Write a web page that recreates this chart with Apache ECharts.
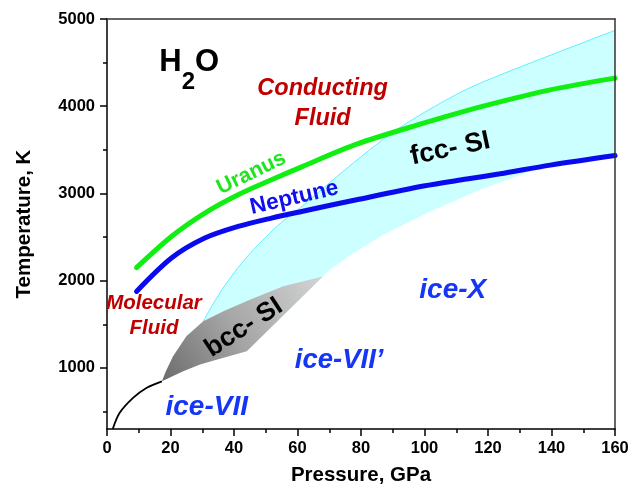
<!DOCTYPE html>
<html>
<head>
<meta charset="utf-8">
<script src="https://cdn.jsdelivr.net/npm/echarts@6/dist/echarts.min.js"></script>
<style>
  html, body { margin: 0; padding: 0; background: #fff; }
  #chart { width: 638px; height: 495px; }
</style>
</head>
<body>
<div id="chart"></div>
<script>
// H2O phase diagram: pressure (GPa) vs temperature (K)
var font = "'Liberation Sans', Arial, sans-serif";

var uranus = [[9.3, 2150], [20.3, 2507], [30.8, 2775], [41.3, 2985], [51.8, 3157], [61.3, 3305],
  [78.6, 3565], [99.7, 3806], [113.3, 3950], [123.8, 4050], [139.6, 4188], [160, 4322]];
var neptune = [[9.3, 1877], [20.3, 2260], [30.8, 2489], [41.3, 2622], [51.8, 2718], [61.3, 2794],
  [78.6, 2928], [99.7, 3085], [113.3, 3165], [123.8, 3225], [139.6, 3325], [160, 3435]];
var meltLine = [[1.8, 300], [4, 485], [8.2, 656], [12.4, 771], [17.3, 847]];

var fccUpper = [[30.3, 1534], [35, 1830], [40, 2090], [45, 2310], [50, 2500], [55, 2670], [61, 2840],
  [70, 3120], [80, 3420], [90, 3700], [100, 3930], [113, 4190], [124, 4361], [140, 4590], [160, 4870]];
var fccLower = [[160, 3463], [149, 3386], [133.3, 3252], [117.5, 3042], [101.8, 2794], [86, 2507],
  [76.5, 2290], [70.2, 2126], [68, 2049], [44, 1185]];

var bccRegion = [[17.3, 847], [18.5, 960], [20.8, 1133], [25, 1362], [30.3, 1534], [37, 1655],
  [45, 1782], [55.5, 1935], [68, 2049], [44, 1190], [34.5, 1095], [29.3, 1038], [24, 961]];

var yMajor = [1000, 2000, 3000, 4000, 5000];
var yMinor = [500, 1500, 2500, 3500, 4500];

var noteText = ['{a|H}{b|2}{a|O}', 'Conducting\nFluid', 'Molecular\nFluid', 'Uranus', 'Neptune',
  'fcc- SI', 'bcc- SI', 'ice-X', 'ice-VII\u2019', 'ice-VII'];
var noteP = [25.9, 67.9, 14.8, 45.5, 59.0, 108.1, 43.1, 108.9, 73.1, 31.4];
var noteT = [4405, 4027, 1593, 3234, 2950, 3512, 1462, 1885, 1089, 551];

var darkRed = '#c00000', iceBlue = '#1636f5';
var noteStyle = [
  { color: '#000', fontSize: 30, fontWeight: 'bold',
    rich: { a: { fontSize: 31, lineHeight: 31, fontWeight: 'bold', color: '#000', padding: [0, 0, 16, 0], fontFamily: font },
            b: { fontSize: 24, lineHeight: 24, fontWeight: 'bold', color: '#000', padding: [23, 0, 0, 0], fontFamily: font } } },
  { color: darkRed, fontSize: 23.5, fontWeight: 'bold', fontStyle: 'italic', lineHeight: 30 },
  { color: darkRed, fontSize: 20.5, fontWeight: 'bold', fontStyle: 'italic', lineHeight: 25 },
  { color: '#1ee61e', fontSize: 21.5, fontWeight: 'bold', rotate: 26 },
  { color: '#1010ee', fontSize: 22.5, fontWeight: 'bold', rotate: 13 },
  { color: '#000', fontSize: 27, fontWeight: 'bold', rotate: 12 },
  { color: '#000', fontSize: 26.5, fontWeight: 'bold', rotate: 33 },
  { color: iceBlue, fontSize: 28, fontWeight: 'bold', fontStyle: 'italic' },
  { color: iceBlue, fontSize: 27.5, fontWeight: 'bold', fontStyle: 'italic' },
  { color: iceBlue, fontSize: 28, fontWeight: 'bold', fontStyle: 'italic' }
];

var notes = noteText.map(function (t, i) {
  var lab = Object.assign({
    show: true, position: 'inside', formatter: t, fontFamily: font, align: 'center',
    textBorderWidth: 0, textShadowBlur: 0, opacity: 1
  }, noteStyle[i]);
  return { value: [noteP[i], noteT[i]], label: lab };
});

function polygonSeries(points, style, z) {
  return {
    type: 'custom',
    clip: true,
    silent: true,
    z: z,
    data: [0],
    renderItem: function (params, api) {
      return {
        type: 'polygon',
        shape: { points: points.map(function (p) { return api.coord(p); }) },
        style: style
      };
    }
  };
}

function plain(v) { return String(v); }

var chart = echarts.init(document.getElementById('chart'));
var tickStyle = { color: '#000', width: 1.5 };

chart.setOption({
  animation: false,
  grid: { left: 107, right: 23, top: 19, bottom: 66 },
  xAxis: [{
    type: 'value', min: 0, max: 160, interval: 20, z: 5,
    axisLine: { lineStyle: { color: '#000', width: 1.5 } },
    axisTick: { length: 7, lineStyle: tickStyle },
    minorTick: { show: true, splitNumber: 2, length: 4, lineStyle: tickStyle },
    axisLabel: { color: '#000', fontFamily: font, fontWeight: 'bold', fontSize: 16.5, margin: 11, formatter: plain },
    splitLine: { show: false },
    name: 'Pressure, GPa', nameLocation: 'middle', nameGap: 36,
    nameTextStyle: { color: '#000', fontFamily: font, fontWeight: 'bold', fontSize: 20.5 }
  }, {
    type: 'value', min: 0, max: 160, position: 'top', z: 5,
    axisLine: { onZero: false, lineStyle: { color: '#333', width: 1.5 } },
    axisTick: { show: false }, axisLabel: { show: false }, splitLine: { show: false }
  }],
  yAxis: [{
    type: 'value', min: 300, max: 5000, z: 5,
    axisLine: { onZero: false, lineStyle: { color: '#000', width: 1.5 } },
    axisTick: { length: 7, customValues: yMajor, lineStyle: tickStyle },
    axisLabel: { customValues: yMajor, color: '#000', fontFamily: font, fontWeight: 'bold', fontSize: 16.5, margin: 12, formatter: plain },
    splitLine: { show: false },
    name: 'Temperature, K', nameLocation: 'middle', nameGap: 72,
    nameTextStyle: { color: '#000', fontFamily: font, fontWeight: 'bold', fontSize: 20.5 }
  }, {
    type: 'value', min: 300, max: 5000, position: 'left', z: 5,
    axisLine: { show: false },
    axisTick: { length: 4, customValues: yMinor, lineStyle: tickStyle },
    axisLabel: { show: false }, splitLine: { show: false }
  }, {
    type: 'value', min: 300, max: 5000, position: 'right', z: 5,
    axisLine: { onZero: false, lineStyle: { color: '#333', width: 1.5 } },
    axisTick: { show: false }, axisLabel: { show: false }, splitLine: { show: false }
  }],
  series: [
    polygonSeries(fccUpper.concat(fccLower), { fill: '#ccffff' }, 1),
    {
      type: 'line', data: fccUpper, smooth: 0.3, symbol: 'none', silent: true, z: 2,
      lineStyle: { color: '#5eeeff', width: 1 }
    },
    polygonSeries(bccRegion, {
      fill: new echarts.graphic.LinearGradient(0, 1, 1, 0, [
        { offset: 0, color: '#6c6c6c' },
        { offset: 0.45, color: '#a4a4a4' },
        { offset: 1, color: '#d4d4d4' }
      ])
    }, 3),
    {
      type: 'line', data: meltLine, smooth: 0.3, symbol: 'none', silent: true, z: 4,
      lineStyle: { color: '#000', width: 1.8 }
    },
    {
      name: 'Uranus', type: 'line', data: uranus, smooth: 0.3, symbol: 'none', silent: true, z: 4,
      lineStyle: { color: '#11ee11', width: 5, cap: 'round' }
    },
    {
      name: 'Neptune', type: 'line', data: neptune, smooth: 0.3, symbol: 'none', silent: true, z: 4,
      lineStyle: { color: '#0a0aee', width: 5, cap: 'round' }
    },
    {
      type: 'scatter', data: notes, symbolSize: 0, silent: true, z: 6,
      itemStyle: { opacity: 1 }
    }
  ]
});
</script>
</body>
</html>
